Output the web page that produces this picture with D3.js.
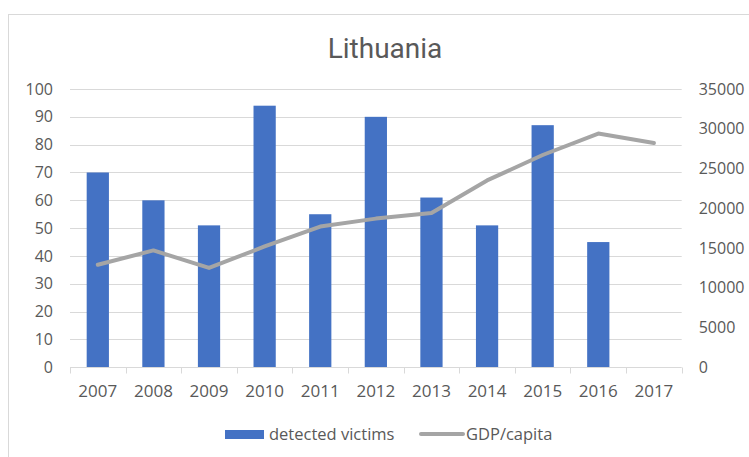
<!DOCTYPE html>
<html>
<head>
<meta charset="utf-8">
<script src="https://cdn.jsdelivr.net/npm/d3@7"></script>
<style>
  html, body { margin: 0; padding: 0; background: #fff; }
  svg { display: block; }
  text { font-family: "Open Sans", sans-serif; fill: #595959; }
</style>
</head>
<body>
<svg id="chart" width="749" height="457"></svg>
<script>
// Lithuania: detected victims (bars, left axis) vs GDP per capita (line, right axis)
const years = ["2007", "2008", "2009", "2010", "2011", "2012", "2013", "2014", "2015", "2016", "2017"];
const victims = [70, 60, 51, 94, 55, 90, 61, 51, 87, 45, null];
const gdpPerCapita = [12900, 14700, 12500, 15200, 17700, 18700, 19400, 23500, 26700, 29400, 28200];
const leftTicks = [0, 10, 20, 30, 40, 50, 60, 70, 80, 90, 100];
const rightTicks = [0, 5000, 10000, 15000, 20000, 25000, 30000, 35000];

const svg = d3.select("#chart");
const W = 749, H = 457;
const plot = { left: 70, right: 681.7, top: 89, bottom: 367.3 };

// chart frame
svg.append("rect")
  .attr("x", 8.5).attr("y", 14.5)
  .attr("width", W + 10).attr("height", H + 10)
  .attr("fill", "#fff").attr("stroke", "#d9d9d9").attr("stroke-width", 1);

const x = d3.scaleBand().domain(years).range([plot.left, plot.right]).paddingInner(0).paddingOuter(0);
const yL = d3.scaleLinear().domain([0, 100]).range([plot.bottom, plot.top]);
const yR = d3.scaleLinear().domain([0, 35000]).range([plot.bottom, plot.top]);

// title
svg.append("text")
  .attr("x", 385).attr("y", 58)
  .attr("text-anchor", "middle")
  .style("font-family", "Roboto, sans-serif")
  .style("font-size", "28px")
  .text("Lithuania");

// horizontal gridlines
svg.append("g")
  .selectAll("line")
  .data(leftTicks.filter(d => d > 0))
  .join("line")
  .attr("x1", plot.left).attr("x2", plot.right)
  .attr("y1", d => Math.round(yL(d)) + 0.5).attr("y2", d => Math.round(yL(d)) + 0.5)
  .attr("stroke", "#d9d9d9").attr("stroke-width", 1);

// left axis
const leftAxis = svg.append("g")
  .attr("transform", `translate(${plot.left},0)`)
  .call(d3.axisLeft(yL).tickValues(leftTicks).tickSize(0).tickPadding(17));
leftAxis.select(".domain").remove();
leftAxis.selectAll("text").style("font-size", "16px").style("fill", "#595959").style("font-family", "Open Sans, sans-serif");

// right axis
const rightAxis = svg.append("g")
  .attr("transform", `translate(${plot.right},0)`)
  .call(d3.axisRight(yR).tickValues(rightTicks).tickSize(0).tickPadding(17).tickFormat(d3.format("d")));
rightAxis.select(".domain").remove();
rightAxis.selectAll("text").style("font-size", "16px").style("fill", "#595959").style("font-family", "Open Sans, sans-serif");

// bars
const barW = x.bandwidth() * 0.4;
svg.append("g")
  .selectAll("rect")
  .data(years.map((yr, i) => ({ yr, v: victims[i] })).filter(d => d.v != null))
  .join("rect")
  .attr("x", d => x(d.yr) + (x.bandwidth() - barW) / 2)
  .attr("y", d => yL(d.v))
  .attr("width", barW)
  .attr("height", d => yL(0) - yL(d.v))
  .attr("fill", "#4472c4");

// category axis
const bottomAxis = svg.append("g")
  .attr("transform", `translate(0,${Math.round(plot.bottom) + 0.5})`)
  .call(d3.axisBottom(x).tickSize(0).tickPadding(17));
bottomAxis.select(".domain").attr("stroke", "#d9d9d9").attr("d", `M${plot.left},0H${plot.right}`);
bottomAxis.selectAll("text").style("font-size", "17px").style("fill", "#595959").style("font-family", "Open Sans, sans-serif");
const bounds = years.map(y => x(y)).concat([plot.right]);
bottomAxis.append("g")
  .selectAll("line")
  .data(bounds)
  .join("line")
  .attr("x1", d => Math.round(d) + 0.5).attr("x2", d => Math.round(d) + 0.5)
  .attr("y1", 0).attr("y2", 6)
  .attr("stroke", "#d9d9d9");

// GDP per capita line
const line = d3.line()
  .x((d, i) => x(years[i]) + x.bandwidth() / 2)
  .y(d => yR(d));
svg.append("path")
  .datum(gdpPerCapita)
  .attr("d", line)
  .attr("fill", "none")
  .attr("stroke", "#a5a5a5")
  .attr("stroke-width", 4)
  .attr("stroke-linejoin", "round")
  .attr("stroke-linecap", "round");

// legend
const legend = svg.append("g");
legend.append("rect")
  .attr("x", 225).attr("y", 430).attr("width", 39).attr("height", 9)
  .attr("fill", "#4472c4");
legend.append("text")
  .attr("x", 269).attr("y", 434).attr("dy", "0.35em")
  .style("font-size", "16.5px")
  .text("detected victims");
legend.append("line")
  .attr("x1", 421).attr("x2", 463).attr("y1", 434).attr("y2", 434)
  .attr("stroke", "#a5a5a5").attr("stroke-width", 4).attr("stroke-linecap", "round");
legend.append("text")
  .attr("x", 466).attr("y", 434).attr("dy", "0.35em")
  .style("font-size", "16.5px")
  .text("GDP/capita");
</script>
</body>
</html>
